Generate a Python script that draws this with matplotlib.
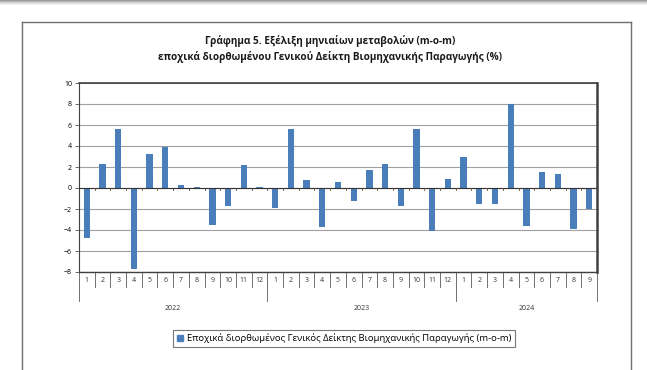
import matplotlib
matplotlib.use("Agg")
import matplotlib.pyplot as plt
from matplotlib.patches import Rectangle
from matplotlib.lines import Line2D

# monthly m-o-m changes, seasonally adjusted industrial production index (%)
years = ["2022", "2023", "2024"]
months_per_year = [12, 12, 9]
values_2022 = [-4.8, 2.3, 5.6, -7.7, 3.2, 3.9, 0.3, 0.1, -3.5, -1.7, 2.2, 0.1]
values_2023 = [-1.9, 5.6, 0.8, -3.7, 0.6, -1.2, 1.7, 2.3, -1.7, 5.6, -4.1, 0.9]
values_2024 = [3.0, -1.5, -1.5, 8.0, -3.6, 1.5, 1.3, -3.9, -2.0]
series_label = "Εποχικά διορθωμένος Γενικός Δείκτης Βιομηχανικής Παραγωγής (m-o-m)"
title = ("Γράφημα 5. Εξέλιξη μηνιαίων μεταβολών (m-o-m)\n"
         "εποχικά διορθωμένου Γενικού Δείκτη Βιομηχανικής Παραγωγής (%)")

values = values_2022 + values_2023 + values_2024
month_labels = []
for n in months_per_year:
    month_labels += [str(m) for m in range(1, n + 1)]

plt.rcParams['font.family'] = ['Open Sans', 'DejaVu Sans']
plt.rcParams['font.stretch'] = 'normal'

W, H = 647, 370
fig = plt.figure(figsize=(W / 100, H / 100), dpi=100)

# gray strip at the very top
for i, c in enumerate(["#9a9a9a", "#b5b5b5", "#cfcfcf", "#e3e3e3", "#f1f1f1"]):
    fig.patches.append(Rectangle((0, 1 - (i + 1) / H), 1, 1 / H, transform=fig.transFigure,
                                 color=c, lw=0))

# outer chart frame (left, top, right)
fx0, fx1, fy0 = 22 / W, 631 / W, 1 - 22 / H
for xs, ys in [([fx0, fx0], [0, fy0]), ([fx0, fx1], [fy0, fy0]), ([fx1, fx1], [fy0, 0])]:
    fig.add_artist(Line2D(xs, ys, transform=fig.transFigure, color="#707070", lw=1.0))

left, right, top, bottom = 79, 597, 83, 272
ax = fig.add_axes([left / W, 1 - bottom / H, (right - left) / W, (bottom - top) / H])

x = list(range(len(values)))
ax.bar(x, values, width=0.4, color="#4a7ebb", zorder=3)

ax.set_xlim(-0.5, len(values) - 0.5)
ax.set_ylim(-8, 10)
ax.set_yticks(range(-8, 11, 2))
ax.tick_params(axis='y', labelsize=5, length=3, width=0.6, color="#555555", pad=2)
ax.set_xticks([])
ax.grid(axis='y', color="#a0a0a0", lw=0.8, zorder=0)
ax.axhline(0, color="#333333", lw=0.8, zorder=4)

for s in ax.spines.values():
    s.set_color("#404040")
ax.spines['left'].set_linewidth(0.8)
ax.spines['bottom'].set_linewidth(1.0)
ax.spines['top'].set_linewidth(1.2)
ax.spines['right'].set_linewidth(1.8)

# little tick marks on the zero line
for b in range(1, len(values)):
    ax.plot([b - 0.5, b - 0.5], [0, -0.2], color="#6b4a2a", lw=0.6, zorder=4)

# two-level category axis
tr = ax.get_xaxis_transform()
ph = bottom - top
month_sep = -15 / ph
year_sep = -29 / ph
for i, lab in enumerate(month_labels):
    ax.text(i, -8 / ph, lab, transform=tr, ha='center', va='center', fontsize=5, color="#333333")
for b in range(1, len(values)):
    ax.add_line(Line2D([b - 0.5, b - 0.5], [0, month_sep], transform=tr, color="#707070",
                       lw=0.7, clip_on=False))
start = 0
bounds = [-0.5]
for y, n in zip(years, months_per_year):
    ax.text(start + (n - 1) / 2, -36 / ph, y, transform=tr, ha='center', va='center',
            fontsize=5, color="#333333")
    start += n
    bounds.append(start - 0.5)
for b in bounds:
    ax.add_line(Line2D([b, b], [0, year_sep], transform=tr, color="#707070",
                       lw=0.7, clip_on=False))

fig.text(330 / W, 1 - 49 / H, title, ha='center', va='center', fontsize=7.2,
         fontweight='bold', fontstretch='normal', linespacing=1.45, color="#1a1a1a")

leg = fig.legend([Rectangle((0, 0), 1, 1, color="#4a7ebb")], [series_label],
                 loc='center', bbox_to_anchor=(344 / W, 1 - 338.5 / H), fontsize=6.8,
                 frameon=True, fancybox=False, edgecolor="#555555", handlelength=0.6,
                 handleheight=0.6, handletextpad=0.4, borderpad=0.4, borderaxespad=0)
leg.get_frame().set_linewidth(0.8)

fig.savefig("out.png", dpi=100)
